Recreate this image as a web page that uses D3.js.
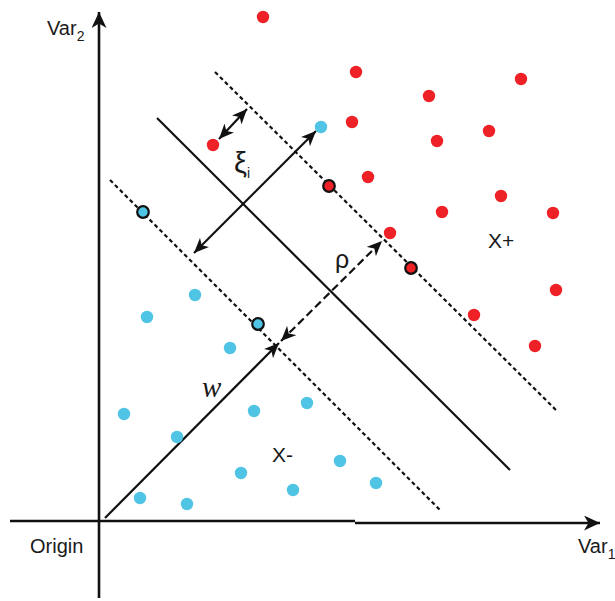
<!DOCTYPE html>
<html>
<head>
<meta charset="utf-8">
<script src="https://cdn.jsdelivr.net/npm/d3@7"></script>
<style>
  html, body { margin: 0; padding: 0; background: #fff; }
  svg { display: block; }
  text { font-family: "Liberation Sans", Arial, sans-serif; fill: #1a1a1a; }
</style>
</head>
<body>
<svg id="chart" width="615" height="601"></svg>
<script>
// Feature-space coordinates (Var1, Var2) of the two classes
const positivePoints = [
  [16.4, 50.4], [25.7, 44.9], [33.0, 42.5], [42.2, 44.2], [25.3, 39.9],
  [33.8, 38.0], [39.0, 39.0], [26.9, 34.4], [40.2, 32.5], [34.3, 30.9],
  [45.4, 30.8], [29.1, 28.8], [45.7, 23.1], [37.5, 20.6], [43.6, 17.5],
  [11.4, 37.6]
];
const positiveSupport = [[23.0, 33.5], [31.2, 25.3]];

const negativePoints = [
  [9.6, 22.6], [4.8, 20.4], [13.1, 17.3], [2.5, 10.7], [7.8, 8.4],
  [15.5, 11.0], [20.8, 11.8], [14.2, 4.8], [24.1, 6.0], [19.4, 3.1],
  [27.7, 3.8], [4.1, 2.3], [8.8, 1.7], [22.2, 39.4]
];
const negativeSupport = [[4.4, 30.9], [15.9, 19.7]];

// Separating hyperplane and the two margin boundaries
const hyperplane = [[5.8, 40.3], [41.1, 5.1]];
const marginPlus = [[11.6, 44.9], [45.8, 11.0]];
const marginMinus = [[1.1, 34.1], [34.1, 1.1]];

// Vectors: normal w, margin width rho, slack distances
const wVector = [[0.6, 0.3], [18.0, 17.8]];
const rhoVector = [[18.2, 18.0], [28.3, 28.0]];
const xiVector = [[21.7, 39.0], [9.5, 26.8]];
const slackVector = [[12.0, 38.2], [14.8, 41.2]];

// Axes extents
const axisY = [[0, -7.7], [0, 50.9]];
const axisXLeft = [[-8.9, 0], [25.6, 0]];
const axisXRight = [[25.6, -0.2], [50.1, -0.2]];

const svg = d3.select("#chart");
const x = d3.scaleLinear().domain([0, 50]).range([99, 599]);
const y = d3.scaleLinear().domain([0, 52]).range([521, 1]);
const line = d3.line().x(d => x(d[0])).y(d => y(d[1]));

const RED = "#ee2127";
const BLUE = "#4fc4e4";
const INK = "#111";

// Arrowhead markers
const defs = svg.append("defs");
function marker(id, len, half) {
  defs.append("marker")
    .attr("id", id)
    .attr("markerUnits", "userSpaceOnUse")
    .attr("viewBox", `${-len} ${-half} ${len} ${half * 2}`)
    .attr("refX", 0).attr("refY", 0)
    .attr("markerWidth", len).attr("markerHeight", half * 2)
    .attr("orient", "auto-start-reverse")
    .append("path")
    .attr("d", `M0,0 L${-len},${-half} L${-len * 0.72},0 L${-len},${half} Z`)
    .attr("fill", INK).attr("stroke", "none");
}
marker("head", 15, 6.5);
marker("axisHead", 16, 7.5);

// Axes
svg.append("path").attr("d", line(axisY))
  .attr("stroke", INK).attr("stroke-width", 2.6).attr("fill", "none")
  .attr("marker-end", "url(#axisHead)");
svg.append("path").attr("d", line(axisXLeft))
  .attr("stroke", INK).attr("stroke-width", 2.6).attr("fill", "none");
svg.append("path").attr("d", line(axisXRight))
  .attr("stroke", INK).attr("stroke-width", 2.6).attr("fill", "none")
  .attr("marker-end", "url(#axisHead)");

// Hyperplane and margins
svg.append("path").attr("d", line(hyperplane))
  .attr("stroke", INK).attr("stroke-width", 2.2).attr("fill", "none");
[marginPlus, marginMinus].forEach(m => {
  svg.append("path").attr("d", line(m))
    .attr("stroke", INK).attr("stroke-width", 2.2).attr("fill", "none")
    .attr("stroke-dasharray", "4,3");
});

// Vectors
svg.append("path").attr("d", line(wVector))
  .attr("stroke", INK).attr("stroke-width", 2.2).attr("fill", "none")
  .attr("marker-end", "url(#head)");
svg.append("path").attr("d", line(rhoVector))
  .attr("stroke", INK).attr("stroke-width", 2.2).attr("fill", "none")
  .attr("stroke-dasharray", "8,4")
  .attr("marker-start", "url(#head)").attr("marker-end", "url(#head)");
[xiVector, slackVector].forEach(v => {
  svg.append("path").attr("d", line(v))
    .attr("stroke", INK).attr("stroke-width", 2.2).attr("fill", "none")
    .attr("marker-start", "url(#head)").attr("marker-end", "url(#head)");
});

// Data points
function dots(data, color, ring) {
  svg.append("g").selectAll("circle").data(data).join("circle")
    .attr("cx", d => x(d[0])).attr("cy", d => y(d[1]))
    .attr("r", ring ? 5.8 : 6.2)
    .attr("fill", color)
    .attr("stroke", ring ? INK : "none")
    .attr("stroke-width", ring ? 2.2 : 0);
}
dots(positivePoints, RED, false);
dots(negativePoints, BLUE, false);
dots(positiveSupport, RED, true);
dots(negativeSupport, BLUE, true);

// Labels
const t1 = svg.append("text").attr("x", 47).attr("y", 35).attr("font-size", 20).text("Var");
t1.append("tspan").attr("font-size", 14).attr("dy", 6).text("2");
const t2 = svg.append("text").attr("x", 578).attr("y", 553).attr("font-size", 20).text("Var");
t2.append("tspan").attr("font-size", 14).attr("dy", 6).text("1");
svg.append("text").attr("x", 30).attr("y", 553).attr("font-size", 20).text("Origin");
svg.append("text").attr("x", 488).attr("y", 248).attr("font-size", 21).text("X+");
svg.append("text").attr("x", 272).attr("y", 462).attr("font-size", 21).text("X-");
svg.append("text").attr("x", 335).attr("y", 268).attr("font-size", 25).text("ρ");
const xi = svg.append("text").attr("x", 234).attr("y", 173).attr("font-size", 29).text("ξ");
xi.append("tspan").attr("font-size", 14).attr("dy", 5).text("i");
svg.append("text").attr("x", 202).attr("y", 397).attr("font-size", 29)
  .attr("font-style", "italic").style("font-family", "'Liberation Serif', 'Times New Roman', serif")
  .text("w");
</script>
</body>
</html>
